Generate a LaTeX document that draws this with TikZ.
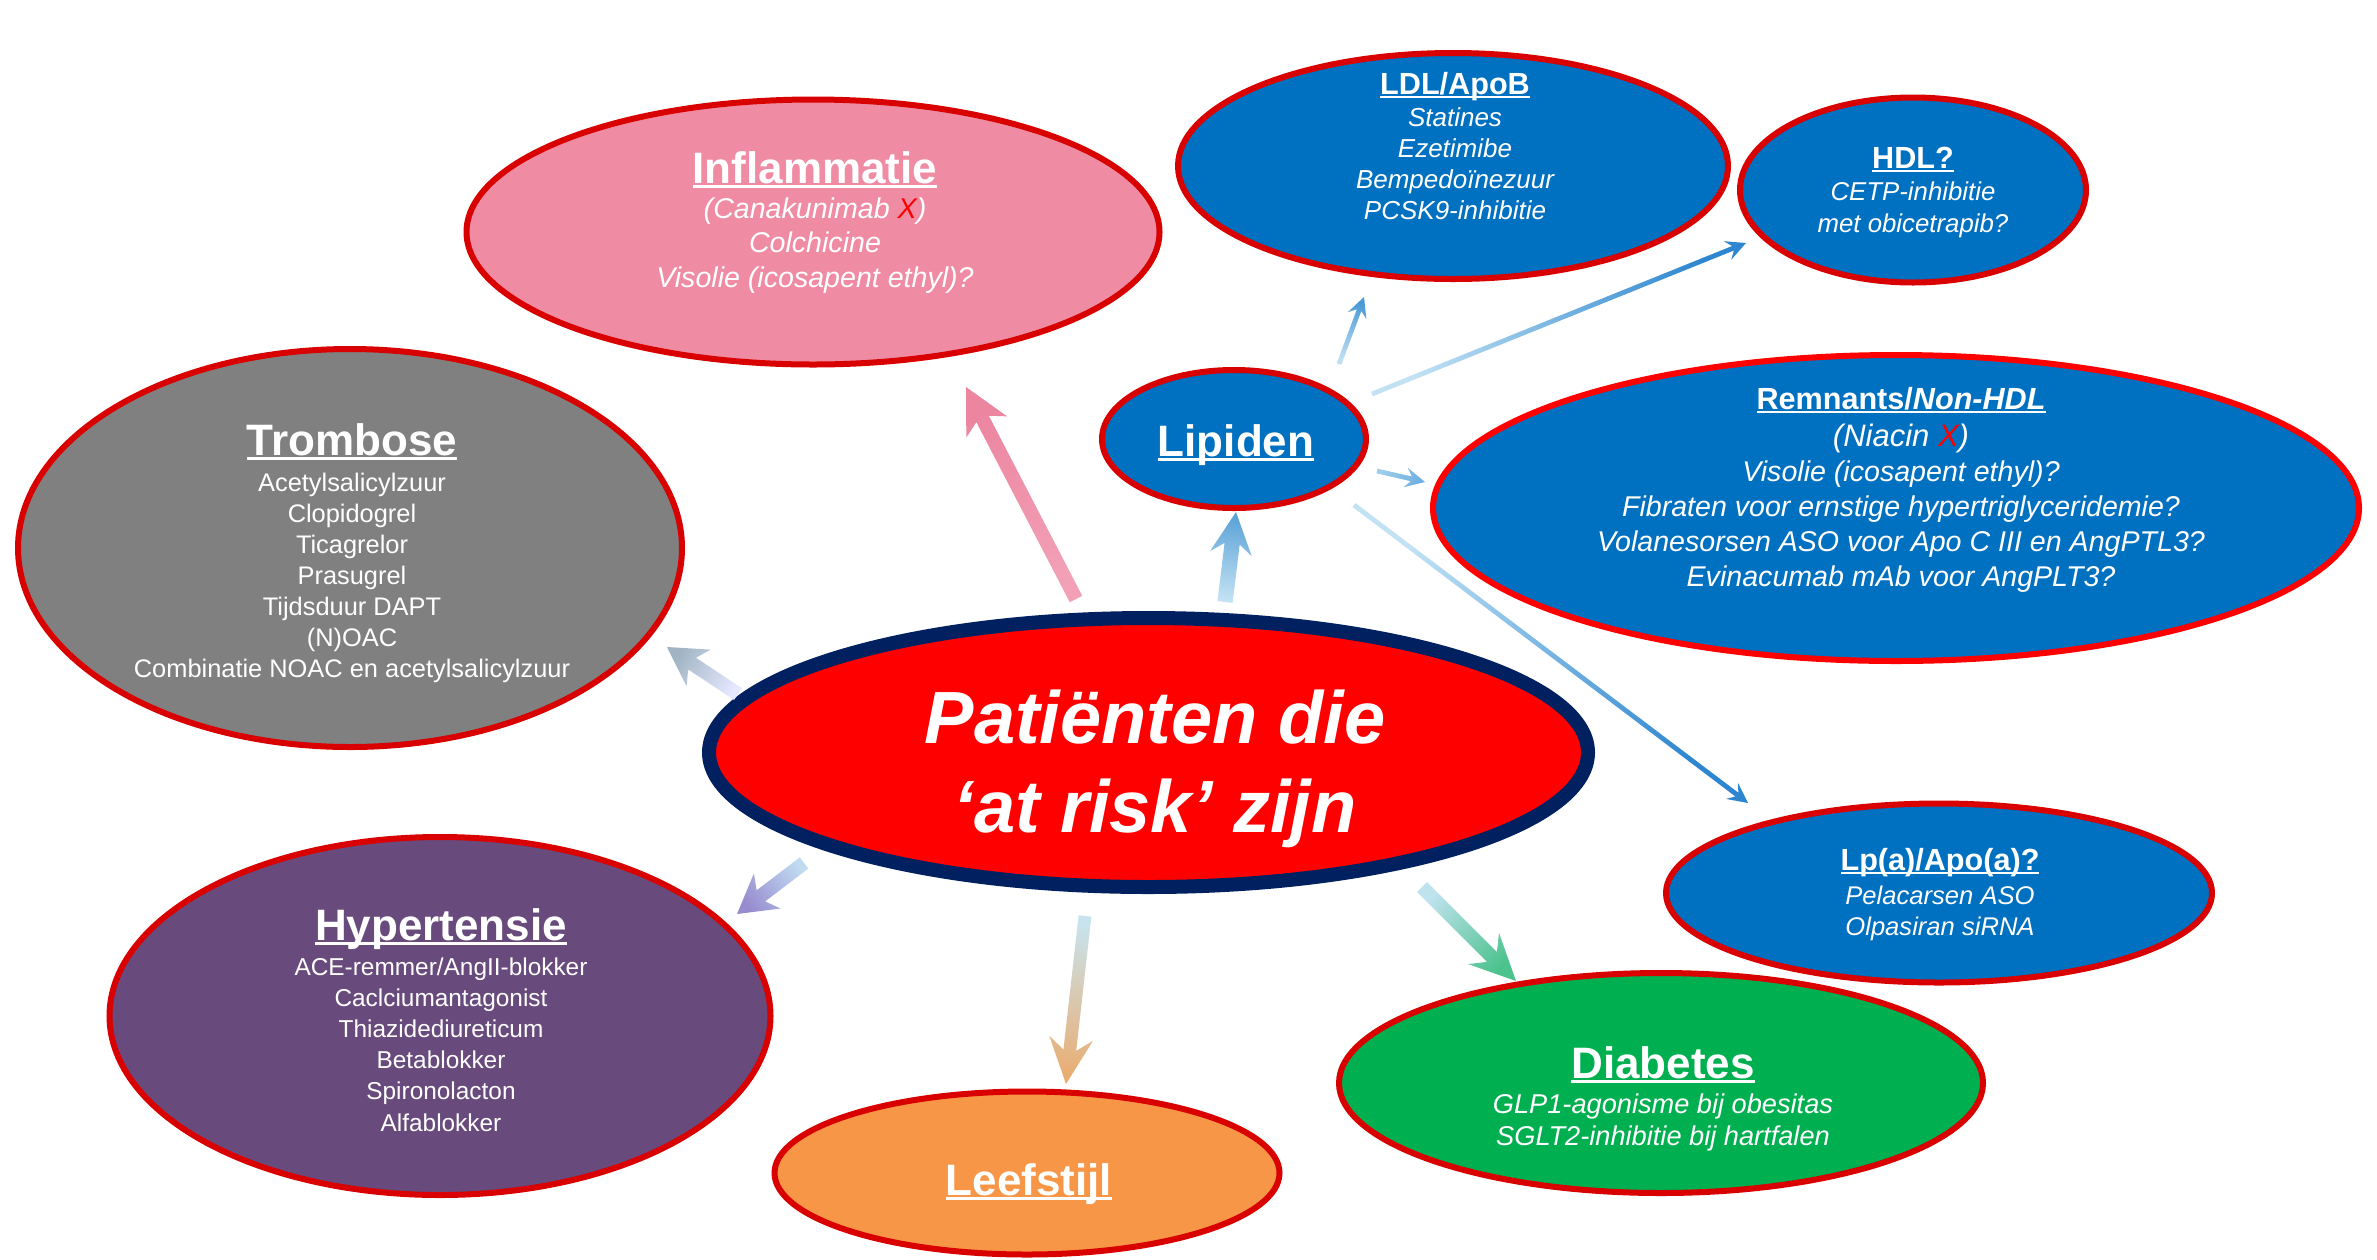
\documentclass[tikz,border=0pt]{standalone}
\usepackage{fontspec}
\setmainfont{Liberation Sans}
\usetikzlibrary{shapes.geometric,calc}
\definecolor{bord}{HTML}{D90000}
\definecolor{bordb}{HTML}{FF0000}
\definecolor{pinkf}{HTML}{EF8CA4}
\definecolor{bluef}{HTML}{0070C0}
\definecolor{grayf}{HTML}{808080}
\definecolor{purplef}{HTML}{684B7C}
\definecolor{orangef}{HTML}{F79646}
\definecolor{greenf}{HTML}{00B050}
\definecolor{navyb}{HTML}{002060}
\definecolor{redf}{HTML}{FF0000}
\newcommand\myul[1]{\setbox0\hbox{#1}\rlap{\rule[-0.12em]{\wd0}{0.07em}}\box0}
\newcommand\blk[3]{{\fontsize{#1}{#2}\selectfont\begin{tabular}[t]{@{}c@{}}#3\end{tabular}}}
% tail, tip, shaft half, head half, barb dist, neck dist, shading angle, colours
\newcommand\blockarrow[8]{%
  \coordinate (ba-n) at ($(#2)!#6!(#1)$);
  \coordinate (ba-b) at ($(#2)!#5!(#1)$);
  \shade[#8, shading angle=#7] ($(#1)!#3!90:(#2)$) -- ($(ba-n)!#3!-90:(#1)$) -- ($(ba-b)!#4!-90:(#1)$) -- (#2) -- ($(ba-b)!#4!90:(#1)$) -- ($(ba-n)!#3!90:(#1)$) -- ($(#1)!#3!-90:(#2)$) -- cycle;
}
\tikzset{
  ell/.style={ellipse, draw=bord, line width=3pt, inner sep=0pt},
  ttl/.style={text=white, font=\bfseries\fontsize{22}{26}\selectfont, anchor=base, inner sep=0pt},
  subttl/.style={text=white, font=\bfseries\fontsize{15.3}{18}\selectfont, anchor=base, inner sep=0pt},
  body/.style={text=white, anchor=base, inner sep=0pt},
}
\begin{document}
\begin{tikzpicture}[x=0.5pt,y=-0.5pt]
\fill[white] (0,0) rectangle (2377,1259);
\useasboundingbox (0,0) rectangle (2377,1259);

% ellipses
\node[ell, fill=pinkf, minimum width=346.5pt, minimum height=132.5pt] (infl) at (813,232) {};
\node[ell, fill=bluef, minimum width=275pt, minimum height=113pt] (ldl) at (1453,166) {};
\node[ell, fill=bluef, minimum width=173pt, minimum height=92.5pt] (hdl) at (1913,190) {};
\node[ell, fill=bluef, minimum width=132pt, minimum height=69pt] (lip) at (1234,439) {};
\node[ell, draw=bordb, fill=bluef, minimum width=463pt, minimum height=153pt] (rem) at (1896,508) {};
\node[ell, fill=grayf, minimum width=332pt, minimum height=199pt] (trom) at (350,548) {};
\node[ellipse, draw=navyb, line width=7pt, fill=redf, inner sep=0pt, minimum width=439.5pt, minimum height=134.5pt] (ctr) at (1148.5,752.5) {};
\node[ell, fill=purplef, minimum width=330.5pt, minimum height=179pt] (hyp) at (440,1016) {};
\node[ell, fill=orangef, minimum width=252.5pt, minimum height=81.5pt] (leef) at (1027,1173) {};
\node[ell, fill=bluef, minimum width=273pt, minimum height=89.5pt] (lpa) at (1939,893) {};
\node[ell, fill=greenf, minimum width=322pt, minimum height=110pt] (diab) at (1661,1083) {};

% arrow end points
\coordinate (t1) at (738,694);  \coordinate (h1) at (667,647);
\coordinate (t2) at (1076,599); \coordinate (h2) at (966,387);
\coordinate (t3) at (1225,602); \coordinate (h3) at (1236,512);
\coordinate (t4) at (804,863);  \coordinate (h4) at (737,914);
\coordinate (t5) at (1085,916); \coordinate (h5) at (1066,1084);
\coordinate (t6) at (1422,887); \coordinate (h6) at (1516,981);
\coordinate (t7) at (1339,364); \coordinate (h7) at (1364,297);
\coordinate (t8) at (1372,394); \coordinate (h8) at (1746,243);
\coordinate (t9) at (1377,471); \coordinate (h9) at (1425,482);
\coordinate (t10) at (1354,505); \coordinate (h10) at (1748,803);

\blockarrow{t1}{h1}{3.5pt}{11pt}{19pt}{15pt}{236.5}{top color=cyan!8!blue!10!white, bottom color={rgb,255:red,160;green,180;blue,195}}
\blockarrow{t2}{h2}{3.5pt}{11.5pt}{22.5pt}{18pt}{207.4}{top color={rgb,255:red,242;green,160;blue,182}, bottom color={rgb,255:red,236;green,134;blue,160}}
\blockarrow{t3}{h3}{3.8pt}{10.5pt}{21pt}{16pt}{173}{top color={rgb,255:red,195;green,226;blue,244}, bottom color={rgb,255:red,90;green,162;blue,215}}
\blockarrow{t4}{h4}{3.5pt}{11pt}{19pt}{15pt}{307.3}{top color={rgb,255:red,192;green,218;blue,240}, bottom color={rgb,255:red,152;green,140;blue,208}}
\blockarrow{t5}{h5}{3.2pt}{11pt}{23pt}{17pt}{353.5}{top color={rgb,255:red,200;green,227;blue,238}, bottom color={rgb,255:red,234;green,172;blue,112}}
\blockarrow{t6}{h6}{3.5pt}{11pt}{23pt}{17pt}{45}{top color={rgb,255:red,190;green,226;blue,238}, bottom color={rgb,255:red,76;green,194;blue,141}}
\blockarrow{t7}{h7}{1.2pt}{5pt}{10pt}{7pt}{159.5}{top color={rgb,255:red,190;green,222;blue,243}, bottom color={rgb,255:red,74;green,154;blue,214}}
\blockarrow{t8}{h8}{1.2pt}{5pt}{10pt}{7pt}{112}{top color={rgb,255:red,194;green,226;blue,244}, bottom color={rgb,255:red,45;green,134;blue,207}}
\blockarrow{t9}{h9}{1.2pt}{5pt}{10pt}{7pt}{77.1}{top color={rgb,255:red,160;green,205;blue,235}, bottom color={rgb,255:red,110;green,175;blue,225}}
\blockarrow{t10}{h10}{1.2pt}{5pt}{10pt}{7pt}{52.9}{top color={rgb,255:red,194;green,226;blue,244}, bottom color={rgb,255:red,45;green,134;blue,207}}

% texts
\node[ttl] (inflT) at (815,183) {\myul{Inflammatie}};
\node[body] (inflB) at (815,218) {\itshape\blk{14.3}{17.25}{(Canakunimab \textcolor{redf}{X})\\ Colchicine\\ Visolie (icosapent ethyl)?}};

\node[subttl] (ldlT) at (1455,94) {\myul{LDL/ApoB}};
\node[body] (ldlB) at (1455,126) {\itshape\blk{13}{15.5}{Statines\\ Ezetimibe\\ Bempedoïnezuur\\ PCSK9-inhibitie}};

\node[subttl] (hdlT) at (1913,168) {\myul{HDL?}};
\node[body] (hdlB) at (1913,200) {\itshape\blk{12.9}{16}{CETP-inhibitie\\ met obicetrapib?}};

\node[ttl] (lipT) at (1236,456) {\myul{Lipiden}};

\node[subttl] (remT) at (1901,409) {\myul{Remnants/\textit{Non-HDL}}};
\node[body] (remB) at (1901,446) {\itshape\blk{14.3}{17.5}{{\fontsize{15.5}{17.5}\selectfont(Niacin \textcolor{redf}{X})}\\ Visolie (icosapent ethyl)?\\ Fibraten voor ernstige hypertriglyceridemie?\\ Volanesorsen ASO voor Apo C III en AngPTL3?\\ Evinacumab mAb voor AngPLT3?}};

\node[ttl] (tromT) at (352,455) {\myul{Trombose}};
\node[body] (tromB) at (352,491) {\blk{12.7}{15.5}{Acetylsalicylzuur\\ Clopidogrel\\ Ticagrelor\\ Prasugrel\\ Tijdsduur DAPT\\ (N)OAC\\ Combinatie NOAC en acetylsalicylzuur}};

\node[body] (ctrT) at (1155,743) {\bfseries\itshape\blk{37}{44.5}{Patiënten die\\ ‘at risk’ zijn}};

\node[ttl] (hypT) at (441,940) {\myul{Hypertensie}};
\node[body] (hypB) at (441,975) {\blk{12.2}{15.6}{ACE-remmer/AngII-blokker\\ Caclciumantagonist\\ Thiazidediureticum\\ Betablokker\\ Spironolacton\\ Alfablokker}};

\node[ttl] (leefT) at (1029,1195) {\myul{Leefstijl}};

\node[subttl] (lpaT) at (1940,870) {\myul{Lp(a)/Apo(a)?}};
\node[body] (lpaB) at (1940,904) {\itshape\blk{12.8}{15.5}{Pelacarsen ASO\\ Olpasiran siRNA}};

\node[ttl] (diabT) at (1663,1078) {\myul{Diabetes}};
\node[body] (diabB) at (1663,1113) {\itshape\blk{13.6}{16}{GLP1-agonisme bij obesitas\\ SGLT2-inhibitie bij hartfalen}};
\end{tikzpicture}
\end{document}
